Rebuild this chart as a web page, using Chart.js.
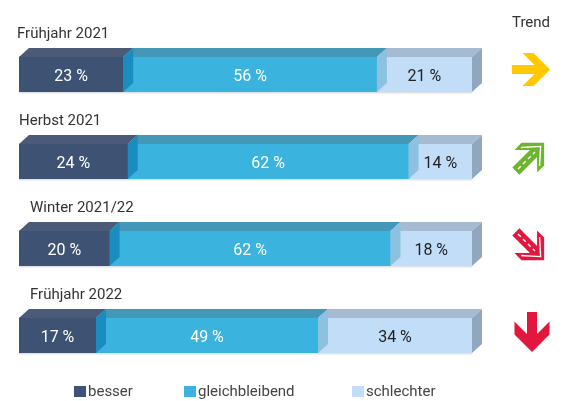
<!DOCTYPE html>
<html>
<head>
<meta charset="utf-8">
<script src="https://cdn.jsdelivr.net/npm/chart.js@4"></script>
<style>
  body { margin: 0; background: #fff; }
  #wrap { width: 565px; height: 401px; position: relative; }
</style>
</head>
<body>
<div id="wrap"><canvas id="trendChart"></canvas></div>
<script>
/* --------------- Data --------------------- */
const periods = ["Frühjahr 2021", "Herbst 2021", "Winter 2021/22", "Frühjahr 2022"];
const besser = [23, 24, 20, 17];
const gleichbleibend = [56, 62, 62, 49];
const schlechter = [21, 14, 18, 34];
const trends = ["right", "upRight", "downRight", "down"];

/* --------------- Colors (front, top, side) --------------------- */
const frontColors = ["#3e5373", "#3bb3df", "#c1ddf8"];
const topColors = ["#4b5a77", "#4397b7", "#a6bbd1"];
const sideColors = ["#1b8cc0", "#8cc2df", "#90a7bf"];
const labelColors = ["#ffffff", "#ffffff", "#222222"];
const labelX = [17, 19, 30, 30];
const DX = 10, DY = 9;

// arrow placement relative to bar centre
const arrowPos = {
  right: { x: 531, dy: -5 },
  upRight: { x: 530, dy: -4.5 },
  downRight: { x: 530, dy: -2.5 },
  down: { x: 532, dy: -3.5 },
};

/* --------------- Arrow shape (pointing right, centred on 0,0) --------------------- */
function arrowPath(ctx, L, s, h, t) {
  const e = L / 2;
  ctx.beginPath();
  ctx.moveTo(-e, -s);
  ctx.lineTo(e - t - s, -s);
  ctx.lineTo(e - t - h, -h);
  ctx.lineTo(e - h, -h);
  ctx.lineTo(e, 0);
  ctx.lineTo(e - h, h);
  ctx.lineTo(e - t - h, h);
  ctx.lineTo(e - t - s, s);
  ctx.lineTo(-e, s);
  ctx.closePath();
}

function drawArrow(ctx, kind, cx, cy) {
  ctx.save();
  ctx.translate(cx, cy);
  if (kind === "right") {
    ctx.fillStyle = "#ffc800";
    arrowPath(ctx, 38, 4.5, 16.5, 11);
    ctx.fill();
  } else if (kind === "down") {
    ctx.rotate(Math.PI / 2);
    ctx.fillStyle = "#e3173e";
    arrowPath(ctx, 40, 5, 17.5, 13);
    ctx.fill();
  } else {
    const color = kind === "upRight" ? "#6db52e" : "#e3173e";
    ctx.rotate(kind === "upRight" ? -Math.PI / 4 : Math.PI / 4);
    const L = 40, s = 5, h = 16, t = 10, e = L / 2;
    ctx.fillStyle = color;
    arrowPath(ctx, L, s, h, t);
    ctx.fill();
    // hollow look: white dashes in shaft and a thin line in the head
    ctx.strokeStyle = "#ffffff";
    ctx.lineWidth = 1.4;
    ctx.setLineDash([4, 3]);
    ctx.beginPath();
    ctx.moveTo(-e + 3, 0);
    ctx.lineTo(e - t - 3, 0);
    ctx.stroke();
    ctx.setLineDash([]);
    ctx.beginPath();
    ctx.moveTo(e - h - t / 2 + 1.5, -h + 3);
    ctx.lineTo(e - t / 2, 0);
    ctx.lineTo(e - h - t / 2 + 1.5, h - 3);
    ctx.stroke();
  }
  ctx.restore();
}

/* --------------- 3D faces, labels, legend --------------------- */
const bar3d = {
  id: "bar3d",
  afterDatasetsDraw(chart) {
    const ctx = chart.ctx;
    const n = chart.data.datasets.length;
    ctx.save();
    chart.data.labels.forEach((lab, i) => {
      const bars = [];
      for (let d = 0; d < n; d++) {
        const el = chart.getDatasetMeta(d).data[i];
        const p = el.getProps(["x", "y", "base", "height"], true);
        bars.push({ x0: p.base, x1: p.x, top: p.y - p.height / 2, bottom: p.y + p.height / 2 });
      }
      // faint shadow under bar
      ctx.fillStyle = "#dfe3e8";
      ctx.fillRect(bars[0].x0, bars[0].bottom, bars[n - 1].x1 - bars[0].x0, 1.5);
      // top faces
      bars.forEach((b, d) => {
        ctx.fillStyle = topColors[d];
        ctx.beginPath();
        ctx.moveTo(b.x0, b.top);
        ctx.lineTo(b.x0 + DX, b.top - DY);
        ctx.lineTo(b.x1 + DX, b.top - DY);
        ctx.lineTo(b.x1, b.top);
        ctx.closePath();
        ctx.fill();
      });
      // side faces at boundaries and end
      bars.forEach((b, d) => {
        ctx.fillStyle = sideColors[d];
        ctx.beginPath();
        ctx.moveTo(b.x1, b.top);
        ctx.lineTo(b.x1 + DX, b.top - DY);
        ctx.lineTo(b.x1 + DX, b.bottom - DY);
        ctx.lineTo(b.x1, b.bottom);
        ctx.closePath();
        ctx.fill();
      });
      // value labels
      ctx.font = "16px Roboto";
      ctx.textAlign = "center";
      ctx.textBaseline = "middle";
      bars.forEach((b, d) => {
        const v = chart.data.datasets[d].data[i];
        ctx.fillStyle = labelColors[d];
        ctx.fillText(v + " %", (b.x0 + b.x1) / 2, (b.top + b.bottom) / 2 + 2);
      });
      // period label
      ctx.font = "15px Roboto";
      ctx.textAlign = "left";
      ctx.fillStyle = "#333333";
      ctx.fillText(lab, labelX[i], bars[0].top - 23);
      // trend arrow
      const cy = (bars[0].top + bars[0].bottom) / 2;
      const pos = arrowPos[trends[i]];
      drawArrow(ctx, trends[i], pos.x, cy + pos.dy);
    });
    // header
    ctx.font = "15px Roboto";
    ctx.textAlign = "center";
    ctx.fillStyle = "#333333";
    ctx.fillText("Trend", 531, 23);
    // legend
    const legX = [74, 184, 352];
    ctx.textAlign = "left";
    chart.data.datasets.forEach((ds, d) => {
      ctx.fillStyle = frontColors[d];
      ctx.fillRect(legX[d], 386, 12, 11);
      ctx.fillStyle = "#444444";
      ctx.fillText(ds.label, legX[d] + 14, 392);
    });
    ctx.restore();
  },
};

/* --------------- Chart --------------------- */
const trendChart = new Chart(document.getElementById("trendChart"), {
  type: "bar",
  plugins: [bar3d],
  data: {
    labels: periods,
    datasets: [
      { label: "besser", data: besser, backgroundColor: frontColors[0] },
      { label: "gleichbleibend", data: gleichbleibend, backgroundColor: frontColors[1] },
      { label: "schlechter", data: schlechter, backgroundColor: frontColors[2] },
    ],
  },
  options: {
    indexAxis: "y",
    responsive: true,
    maintainAspectRatio: false,
    animation: false,
    layout: { padding: { left: 19, right: 93, top: 31, bottom: 22 } },
    datasets: { bar: { barThickness: 35, borderWidth: 0 } },
    scales: {
      x: { stacked: true, min: 0, max: 100, display: false },
      y: { stacked: true, display: false },
    },
    plugins: {
      legend: { display: false },
      tooltip: { enabled: false },
    },
  },
});
</script>
</body>
</html>
